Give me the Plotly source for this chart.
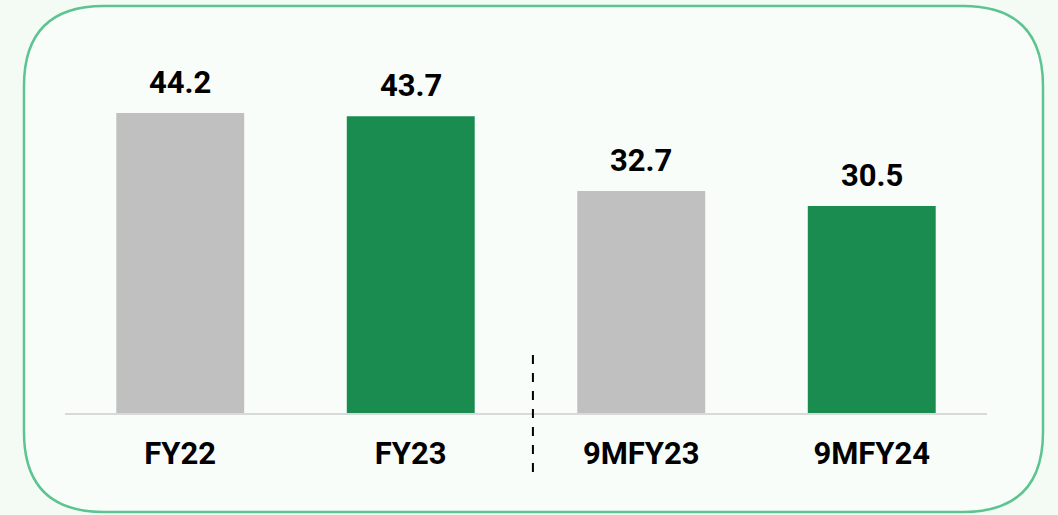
import plotly.graph_objects as go

categories = ["FY22", "FY23", "9MFY23", "9MFY24"]
values = [44.2, 43.7, 32.7, 30.5]
bar_colors = ["#c0c0c0", "#1a8c50", "#c0c0c0", "#1a8c50"]

W, H = 1058, 515

fig = go.Figure(go.Bar(
    x=categories,
    y=values,
    marker_color=bar_colors,
    marker_line_width=0,
    hoverinfo="skip",
))

# value labels above the bars
for c, v in zip(categories, values):
    fig.add_annotation(
        x=c, y=v, text=f"<b>{v}</b>", showarrow=False,
        yanchor="bottom", yshift=10,
        font=dict(family="Roboto", size=31, color="#000000"),
    )


def px(x, y):
    return f"{x / W:.5f},{1 - y / H:.5f}"


# rounded frame (pixel coords converted to paper)
x0, y0, x1, y1, r = 24, 6, 1043, 512, 80
path = (
    f"M {px(x0 + r, y0)} L {px(x1 - r, y0)} "
    f"Q {px(x1, y0)} {px(x1, y0 + r)} L {px(x1, y1 - r)} "
    f"Q {px(x1, y1)} {px(x1 - r, y1)} L {px(x0 + r, y1)} "
    f"Q {px(x0, y1)} {px(x0, y1 - r)} L {px(x0, y0 + r)} "
    f"Q {px(x0, y0)} {px(x0 + r, y0)} Z"
)
fig.add_shape(type="path", path=path, xref="paper", yref="paper",
              line=dict(color="#5cc490", width=2.5), fillcolor="#f9fdf9",
              layer="below")

# divider between full year and nine-month figures
fig.add_shape(type="line", xref="x", yref="paper",
              x0=1.53, x1=1.53, y0=1 - 355 / H, y1=1 - 475 / H,
              line=dict(color="#000000", width=2, dash="dash"))

fig.update_layout(
    width=W, height=H,
    margin=dict(l=0, r=0, t=0, b=0),
    paper_bgcolor="#f4faf4",
    plot_bgcolor="rgba(0,0,0,0)",
    bargap=0.445,
    showlegend=False,
    font=dict(family="Roboto", color="#000000"),
    xaxis=dict(
        domain=[65 / W, 987 / W],
        showgrid=False, zeroline=False,
        showline=True, linecolor="#d9d9d9", linewidth=2,
        ticks="outside", ticklen=12, tickcolor="rgba(0,0,0,0)",
        tickfont=dict(family="Roboto", size=31, color="#000000"),
        tickprefix="<b>", ticksuffix="</b>",
        fixedrange=True,
    ),
    yaxis=dict(
        domain=[1 - 413 / H, 1],
        range=[0, 413 / 6.79],
        visible=False, fixedrange=True,
    ),
)

fig.write_html(
    "out.html",
    config={"displayModeBar": False},
    post_script="document.body.style.margin='0';document.body.style.background='#f4faf4';",
)
